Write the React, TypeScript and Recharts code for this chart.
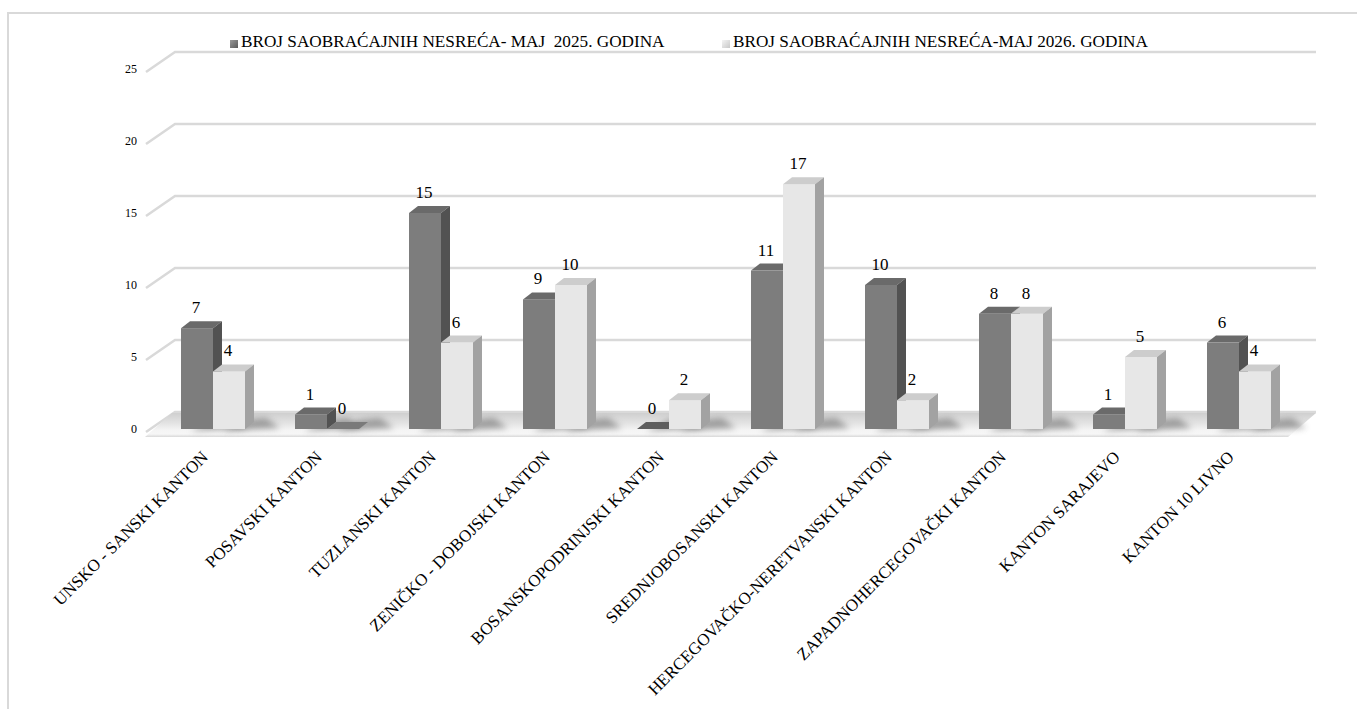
import React from 'react';
import { BarChart, Bar, XAxis, YAxis, CartesianGrid, LabelList, Legend } from 'recharts';

const categories = [
  'UNSKO - SANSKI KANTON',
  'POSAVSKI KANTON',
  'TUZLANSKI KANTON',
  'ZENIČKO - DOBOJSKI KANTON',
  'BOSANSKOPODRINJSKI KANTON',
  'SREDNJOBOSANSKI KANTON',
  'HERCEGOVAČKO-NERETVANSKI KANTON',
  'ZAPADNOHERCEGOVAČKI KANTON',
  'KANTON SARAJEVO',
  'KANTON 10 LIVNO',
];
const series2025 = [7, 1, 15, 9, 0, 11, 10, 8, 1, 6];
const series2026 = [4, 0, 6, 10, 2, 17, 2, 8, 5, 4];
const seriesNames = [
  'BROJ SAOBRAĆAJNIH NESREĆA- MAJ  2025. GODINA',
  'BROJ SAOBRAĆAJNIH NESREĆA-MAJ 2026. GODINA',
];
const yTicks = [0, 5, 10, 15, 20, 25];

const data = categories.map((name, i) => ({ name, a: series2025[i], b: series2026[i] }));

const FONT = "'Liberation Serif', 'DejaVu Serif', serif";
const DX = 9;
const DY = 7;

const palettes = {
  dark: { front: '#7d7d7d', top: '#6a6a6a', side: '#525252', flat: '#5e5e5e' },
  light: { front: '#e7e7e7', top: '#cdcdcd', side: '#a2a2a2', flat: '#7a7a7a' },
};

function make3DShape(p: any) {
  return (props: any) => {
    const { x, y, width: w, height: h } = props;
    if (x == null || y == null) return null;
    const base = y + h;
    const shadow = (
      <path
        d={`M${x + w * 0.3},${base + 2} L${x + w + DX + 26},${base - 1} L${x + w + DX + 12},${base - DY - 4} L${x + w},${base - DY - 2} Z`}
        fill="#6e6e6e"
        opacity={0.6}
        filter="url(#shadowBlur)"
      />
    );
    if (h < 0.5) {
      return (
        <g>
          {shadow}
          <path d={`M${x},${base} L${x + DX},${base - DY} L${x + w + DX},${base - DY} L${x + w},${base} Z`} fill={p.flat} />
        </g>
      );
    }
    return (
      <g>
        {shadow}
        <rect x={x} y={y} width={w} height={h} fill={p.front} />
        <path d={`M${x},${y} L${x + DX},${y - DY} L${x + w + DX},${y - DY} L${x + w},${y} Z`} fill={p.top} />
        <path d={`M${x + w},${y} L${x + w + DX},${y - DY} L${x + w + DX},${base - DY} L${x + w},${base} Z`} fill={p.side} />
      </g>
    );
  };
}

const gridLine = (props: any) => {
  const { x1, x2, y1, index } = props;
  const bottom = props.y != null && props.height != null ? props.y + props.height : null;
  const isBase = bottom != null ? Math.abs(y1 - bottom) < 1 : index === 0;
  const back = y1 - 17;
  const line = (
    <path
      d={`M${x1 - 10},${y1 + 3} L${x1 + 19},${back} L${x2 + 20},${back}`}
      fill="none"
      stroke="#d9d9d9"
      strokeWidth={2.5}
    />
  );
  if (!isBase) return <g key={`g${index}`}>{line}</g>;
  return (
    <g key={`g${index}`}>
      {line}
      <path
        d={`M${x1 - 11},${y1 + 8} L${x2 - 8},${y1 + 8} L${x2 + 20},${y1 - 16} L${x1 + 16},${y1 - 16} Z`}
        fill="url(#floorGrad)"
      />
    </g>
  );
};

const YTick = (props: any) => {
  const { x, y, payload } = props;
  return (
    <text x={x - 11} y={y + 4} textAnchor="end" fontSize={12} fontFamily={FONT} fill="#000">
      {payload.value}
    </text>
  );
};

const XTick = (props: any) => {
  const { x, payload } = props;
  const ax = x - 4;
  const ay = 458;
  return (
    <text x={ax} y={ay} textAnchor="end" fontSize={17} fontFamily={FONT} fill="#000" transform={`rotate(-45 ${ax} ${ay})`}>
      {payload.value}
    </text>
  );
};

const BarLabel = (props: any) => {
  const { x, y, width, value } = props;
  return (
    <text x={x + width / 2 - 1} y={y - 15} textAnchor="middle" fontSize={17} fontFamily={FONT} fill="#000">
      {value}
    </text>
  );
};

const LegendContent = () => {
  const items = [
    { name: seriesNames[0], left: 230, grad: 'linear-gradient(135deg,#9a9a9a,#5a5a5a)' },
    { name: seriesNames[1], left: 722, grad: 'linear-gradient(135deg,#f4f4f4,#c8c8c8)' },
  ];
  return (
    <div style={{ position: 'relative', width: 1357, height: 24, fontFamily: FONT }}>
      {items.map((it) => (
        <div
          key={it.name}
          style={{ position: 'absolute', left: it.left, top: 0, display: 'flex', alignItems: 'center', height: 24, whiteSpace: 'pre' }}
        >
          <span style={{ display: 'inline-block', width: 8, height: 8, background: it.grad, marginRight: 3, marginTop: 4 }} />
          <span style={{ fontFamily: FONT, fontSize: 17.2, color: '#000' }}>{it.name}</span>
        </div>
      ))}
    </div>
  );
};

export default function App() {
  return (
    <div style={{ position: 'absolute', left: 0, top: 0, width: 1357, height: 709, overflow: 'hidden', background: '#fff', fontFamily: FONT }}>
      <div
        style={{
          position: 'absolute',
          left: 7,
          top: 12,
          width: 1350,
          height: 697,
          borderLeft: '2px solid #d9d9d9',
          borderTop: '2px solid #d9d9d9',
          boxSizing: 'border-box',
        }}
      />
      <div style={{ position: 'absolute', left: 0, top: 0 }}>
        <BarChart
          width={1357}
          height={709}
          data={data}
          margin={{ top: 69, right: 61, bottom: 80, left: 116 }}
          barSize={32}
          barGap={0}
        >
          <defs>
            <linearGradient id="floorGrad" x1="0" y1="0" x2="0" y2="1">
              <stop offset="0%" stopColor="#cfcfcf" />
              <stop offset="40%" stopColor="#e2e2e2" />
              <stop offset="70%" stopColor="#f4f4f4" />
              <stop offset="88%" stopColor="#f6f6f6" />
              <stop offset="100%" stopColor="#d8d8d8" />
            </linearGradient>
            <filter id="shadowBlur" x="-50%" y="-50%" width="200%" height="200%">
              <feGaussianBlur stdDeviation="3" />
            </filter>
          </defs>
          <CartesianGrid vertical={false} horizontal={gridLine} />
          <XAxis dataKey="name" height={200} interval={0} axisLine={false} tickLine={false} tick={<XTick />} />
          <YAxis width={40} domain={[0, 25]} ticks={yTicks} axisLine={false} tickLine={false} tick={<YTick />} />
          <Legend
            verticalAlign="middle"
            align="center"
            layout="horizontal"
            wrapperStyle={{ top: 30, left: 0, width: 1357, height: 24 }}
            content={() => <LegendContent />}
          />
          <Bar dataKey="a" name={seriesNames[0]} isAnimationActive={false} shape={make3DShape(palettes.dark)}>
            <LabelList dataKey="a" content={<BarLabel />} />
          </Bar>
          <Bar dataKey="b" name={seriesNames[1]} isAnimationActive={false} shape={make3DShape(palettes.light)}>
            <LabelList dataKey="b" content={<BarLabel />} />
          </Bar>
        </BarChart>
      </div>
    </div>
  );
}
